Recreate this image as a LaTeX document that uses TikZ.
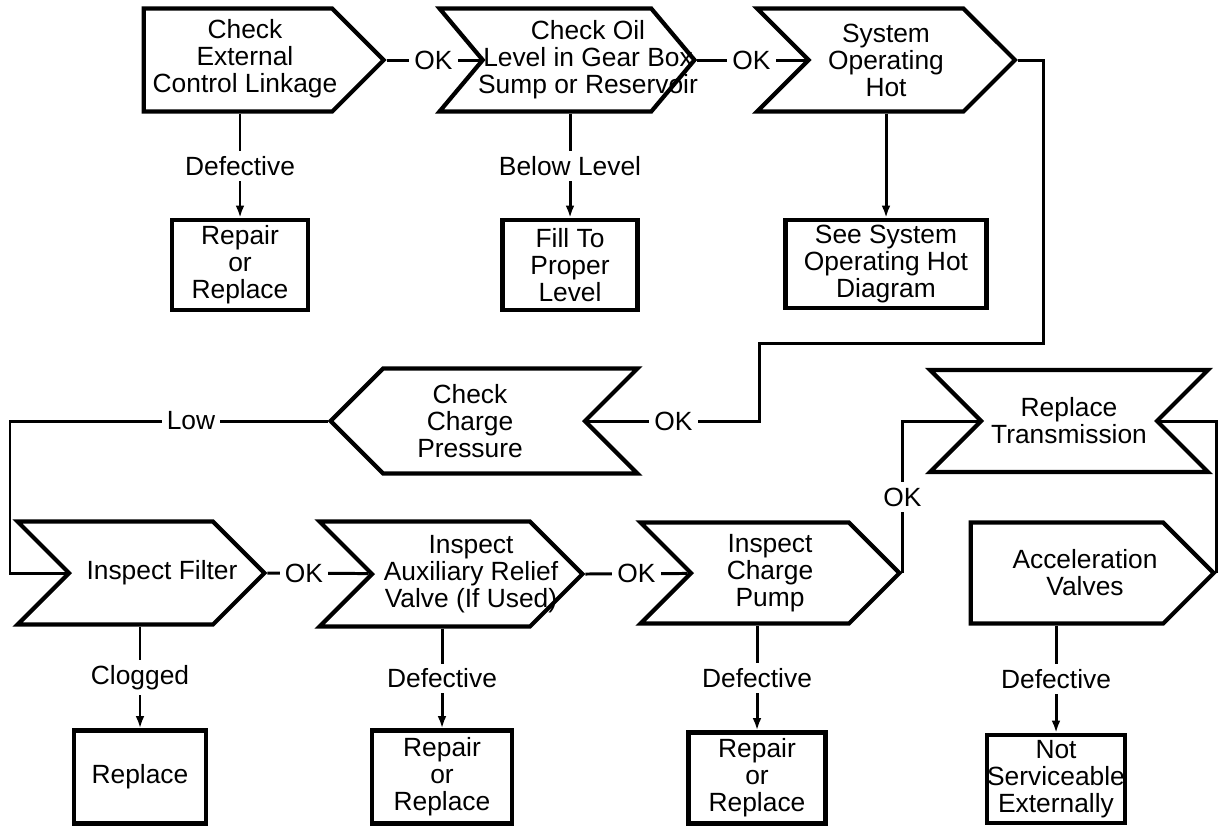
\documentclass[tikz,border=0pt]{standalone}
\usepackage{fontspec}
\setmainfont{Liberation Sans}
\usetikzlibrary{shapes.symbols,arrows.meta}

\begin{document}
\begin{tikzpicture}[x=0.02cm, y=-0.02cm, line width=1.7pt,
  font=\fontsize{15}{15.4}\selectfont,
  chev/.style={signal, draw, line width=2.4pt, inner sep=0pt, signal pointer angle=90},
  chevtext/.style={align=center, inner sep=0pt},
  endbox/.style={draw, line width=2.4pt, align=center, inner sep=0pt},
  lbl/.style={fill=white, inner sep=3pt},
  drop/.style={-{Latex[length=7pt,width=5pt]}}]
\useasboundingbox (0,0) rectangle (1223,826);

\node[chev, signal to=east, minimum width=4.8cm, minimum height=2.06cm] (chkLink) at (238,60) {};
\node[chev, signal from=west, signal to=east, signal pointer angle=100, minimum width=5.1cm, minimum height=2.06cm] (chkOil) at (567,60) {};
\node[chev, signal from=west, signal to=east, minimum width=5.16cm, minimum height=2.06cm] (sysHot) at (886,60) {};
\node[chev, signal from=east, signal to=west, minimum width=6.14cm, minimum height=2.1cm] (chkPress) at (484,421) {};
\node[chev, signal from=west and east, signal to=nowhere, minimum width=5.56cm, minimum height=2.04cm] (replTrans) at (1069,421) {};
\node[chev, signal from=west, signal to=east, minimum width=4.94cm, minimum height=2.06cm] (inspFilter) at (141,573) {};
\node[chev, signal from=west, signal to=east, minimum width=5.26cm, minimum height=2.1cm] (inspAux) at (451,574) {};
\node[chev, signal from=west, signal to=east, minimum width=5.18cm, minimum height=2.02cm] (inspPump) at (770,573) {};
\node[chev, signal to=east, minimum width=4.86cm, minimum height=2.02cm] (accValves) at (1067,573) {};

\node[chevtext] (chkLinkTxt) at (245,59) {Check\\External\\Control Linkage};
\node[chevtext] (chkOilTxt) at (588,60) {Check Oil\\Level in Gear Box\\Sump or Reservoir};
\node[chevtext] (sysHotTxt) at (886,60) {System\\Operating\\Hot};
\node[chevtext] (chkPressTxt) at (470,421) {Check\\Charge\\Pressure};
\node[chevtext] (replTransTxt) at (1069,421) {Replace\\Transmission};
\node[chevtext] (inspFilterTxt) at (162,573) {Inspect Filter};
\node[chevtext] (inspAuxTxt) at (471,574) {Inspect\\Auxiliary Relief\\Valve (If Used)};
\node[chevtext] (inspPumpTxt) at (770,573) {Inspect\\Charge\\Pump};
\node[chevtext] (accValvesTxt) at (1085,573) {Acceleration\\Valves};

\node[endbox, minimum width=2.72cm, minimum height=1.8cm] (fixLink) at (240,265) {Repair\\or\\Replace};
\node[endbox, minimum width=2.7cm, minimum height=1.8cm] (fillOil) at (570,265) {Fill To\\Proper\\Level};
\node[endbox, minimum width=4.02cm, minimum height=1.76cm] (seeHot) at (886,264) {See System\\Operating Hot\\Diagram};
\node[endbox, minimum width=2.64cm, minimum height=1.86cm] (newFilter) at (140,777) {Replace};
\node[endbox, minimum width=2.8cm, minimum height=1.86cm] (fixAux) at (442,777) {Repair\\or\\Replace};
\node[endbox, minimum width=2.74cm, minimum height=1.82cm] (fixPump) at (757,778) {Repair\\or\\Replace};
\node[endbox, minimum width=2.7cm, minimum height=1.76cm] (noService) at (1056,779) {Not\\Serviceable\\Externally};

\coordinate (hotDown) at (1043,343);
\coordinate (pressIn) at (759,421);
\coordinate (lowTurn) at (10,421);

\draw (chkLink.east) -- node[lbl] {OK} (chkOil);
\draw (chkOil.east) -- node[lbl] {OK} (sysHot);
\draw (sysHot.east) -| (hotDown) -| (pressIn) -- node[lbl] {OK} (chkPress);
\draw (chkPress.west) -- node[lbl, pos=0.43] {Low} (lowTurn) |- (inspFilter);
\draw (inspFilter.east) -- node[lbl, pos=0.36] {OK} (inspAux);
\draw (inspAux.east) -- node[lbl] {OK} (inspPump);
\draw (inspPump.east) -- node[lbl] {OK} (inspPump.east |- replTrans.center) -- (replTrans);
\draw (accValves.east) |- (replTrans);

\draw[drop] (fixLink.north |- chkLink.south) -- node[lbl] {Defective} (fixLink.north);
\draw[drop] (fillOil.north |- chkOil.south) -- node[lbl] {Below Level} (fillOil.north);
\draw[drop] (seeHot.north |- sysHot.south) -- (seeHot.north);
\draw[drop] (newFilter.north |- inspFilter.south) -- node[lbl] {Clogged} (newFilter.north);
\draw[drop] (fixAux.north |- inspAux.south) -- node[lbl] {Defective} (fixAux.north);
\draw[drop] (fixPump.north |- inspPump.south) -- node[lbl] {Defective} (fixPump.north);
\draw[drop] (noService.north |- accValves.south) -- node[lbl] {Defective} (noService.north);
\end{tikzpicture}
\end{document}
